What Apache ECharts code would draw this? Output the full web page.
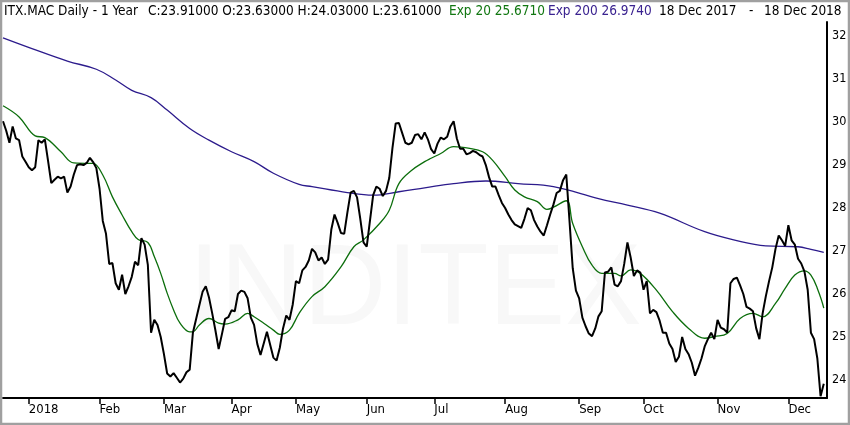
<!DOCTYPE html>
<html>
<head>
<meta charset="utf-8">
<script src="https://cdn.jsdelivr.net/npm/echarts@6/dist/echarts.min.js"></script>
<style>
html,body{margin:0;padding:0;background:#fff;}
#chart{width:850px;height:425px;}
</style>
</head>
<body>
<div id="chart"></div>
<script>
// ---- data ----
const holidays = ['2017-12-25','2017-12-26','2018-01-01','2018-03-30','2018-04-02','2018-05-01'];
const startDate = '2017-12-18';
const endDate = '2018-12-18';
const monthNames = ['Jan','Feb','Mar','Apr','May','Jun','Jul','Aug','Sep','Oct','Nov','Dec'];
const yTicks = [24,25,26,27,28,29,30,31,32];

const close = [
30.02,29.8,29.52,29.9,29.62,29.58,29.2,29.08,28.95,28.88,
28.95,29.58,29.52,29.6,29.1,28.58,28.66,28.73,28.69,28.73,
28.36,28.5,28.78,29.0,29.02,29.0,29.05,29.17,29.07,28.93,
28.45,27.7,27.4,26.7,26.72,26.25,26.1,26.45,26.0,26.18,
26.4,26.75,26.67,27.3,27.15,26.68,25.1,25.4,25.28,25.0,
24.6,24.15,24.08,24.16,24.05,23.94,24.03,24.18,24.24,25.1,
25.42,25.74,26.05,26.18,25.92,25.55,25.15,24.72,25.06,25.42,
25.46,25.62,25.6,26.0,26.08,26.05,25.9,25.45,25.28,24.84,
24.58,24.85,25.12,24.82,24.52,24.45,24.75,25.2,25.5,25.4,
25.75,26.3,26.25,26.55,26.63,26.78,27.05,26.97,26.78,26.85,
26.7,26.8,27.5,27.85,27.65,27.42,27.4,27.9,28.36,28.4,
28.25,27.75,27.2,27.1,27.7,28.3,28.5,28.45,28.28,28.4,
28.7,29.4,29.97,29.98,29.75,29.52,29.48,29.52,29.7,29.72,
29.6,29.76,29.6,29.37,29.27,29.5,29.64,29.6,29.66,29.9,
30.02,29.62,29.38,29.38,29.25,29.28,29.33,29.3,29.24,29.2,
29.0,28.72,28.5,28.5,28.3,28.12,28.0,27.85,27.72,27.62,
27.58,27.54,27.75,28.0,27.95,27.72,27.57,27.45,27.36,27.6,
27.85,28.08,28.35,28.4,28.65,28.78,27.7,26.6,26.08,25.9,
25.45,25.25,25.08,25.02,25.2,25.48,25.6,26.5,26.52,26.62,
26.22,26.18,26.3,26.7,27.2,26.85,26.42,26.55,26.5,26.1,
26.3,25.55,25.63,25.58,25.38,25.1,25.1,24.85,24.72,24.42,
24.54,25.0,24.72,24.6,24.4,24.1,24.28,24.5,24.78,24.95,
25.1,24.95,25.4,25.22,25.18,25.1,26.25,26.35,26.38,26.2,
26.0,25.7,25.66,25.6,25.2,24.95,25.55,25.95,26.3,26.62,
27.05,27.36,27.25,27.12,27.6,27.25,27.15,26.82,26.71,26.52,
26.1,25.1,24.95,24.5,23.62,23.91
];

// [trading-day index, value]
const exp20 = [
[0,30.38],[5,30.12],[10,29.68],[13,29.64],[18,29.31],[22,29.05],[27,29.04],[28,29.04],
[31,28.77],[34,28.26],[37,27.84],[40,27.45],[42,27.27],[45,27.2],[47,26.87],[49,26.48],
[51,26.02],[53,25.63],[55,25.32],[58,25.12],[59,25.12],[61,25.28],[64,25.43],[67,25.32],
[69,25.3],[73,25.4],[76,25.55],[78,25.47],[81,25.32],[84,25.16],[86,25.06],[89,25.16],
[92,25.55],[96,25.94],[100,26.17],[105,26.63],[109,27.1],[112,27.26],[117,27.64],[120,27.95],
[123,28.57],[127,28.88],[131,29.08],[133,29.16],[136,29.27],[140,29.43],[145,29.39],[149,29.31],
[152,29.12],[156,28.73],[159,28.42],[162,28.26],[166,28.15],[169,27.97],[171,28.02],[175,28.17],
[177,27.64],[180,27.1],[183,26.67],[186,26.48],[190,26.48],[192,26.42],[195,26.56],[198,26.48],
[203,26.09],[208,25.59],[213,25.2],[218,24.97],[221,25.01],[225,25.08],[229,25.43],[233,25.55],
[236,25.47],[240,25.78],[243,26.13],[246,26.44],[249,26.54],[251,26.44],[253,26.13],[255,25.67]
];

const exp200 = [
[0,31.96],[9,31.71],[20,31.42],[29,31.23],[35,30.98],[40,30.74],[46,30.57],[51,30.28],
[58,29.85],[64,29.58],[71,29.31],[78,29.08],[84,28.81],[92,28.55],[96,28.5],[107,28.36],
[115,28.3],[123,28.38],[131,28.47],[140,28.57],[150,28.63],[160,28.57],[171,28.5],[185,28.22],
[194,28.07],[204,27.88],[218,27.45],[227,27.26],[237,27.12],[247,27.1],[251,27.04],[255,26.97]
];

// ---- trading-day categories ----
function buildTradingDays(s, e, hol) {
  const out = [];
  const d = new Date(s + 'T00:00:00Z');
  const end = new Date(e + 'T00:00:00Z');
  while (d <= end) {
    const wd = d.getUTCDay();
    const iso = d.toISOString().slice(0, 10);
    if (wd !== 0 && wd !== 6 && hol.indexOf(iso) < 0) out.push(iso);
    d.setUTCDate(d.getUTCDate() + 1);
  }
  return out;
}
const categories = buildTradingDays(startDate, endDate, holidays);
const axisCats = categories.concat(['']);

function isMonthStart(index) {
  if (index <= 0 || index >= categories.length) return false;
  return categories[index].slice(5, 7) !== categories[index - 1].slice(5, 7);
}

const FONT = "'DejaVu Sans Condensed', 'DejaVu Sans', sans-serif";

const chart = echarts.init(document.getElementById('chart'), null, {renderer: 'canvas'});

function headerText(x, text, color) {
  return {
    type: 'text', left: x, top: 4, z: 10,
    style: {text: text, fill: color, font: "13.5px " + FONT}
  };
}

chart.setOption({
  animation: false,
  backgroundColor: '#ffffff',
  grid: {left: 3, right: 23, top: 22, bottom: 27, containLabel: false, outerBoundsMode: 'none'},
  graphic: [
    {
      type: 'text', x: 415, y: 292, z: -10, silent: true,
      style: {text: 'INDITEX', fill: '#f8f8f8', font: "115px 'Liberation Sans', sans-serif",
              align: 'center', verticalAlign: 'middle'}
    },
    {
      type: 'rect', z: 100, silent: true,
      shape: {x: 1, y: 1, width: 848, height: 423},
      style: {fill: 'none', stroke: '#a0a0a0', lineWidth: 2.5}
    },
    headerText(4, 'ITX.MAC Daily - 1 Year', '#000'),
    headerText(148, 'C:23.91000 O:23.63000 H:24.03000 L:23.61000', '#000'),
    headerText(449, 'Exp 20 25.6710', '#117711'),
    headerText(548, 'Exp 200 26.9740', '#3a2290'),
    headerText(659, '18 Dec 2017', '#000'),
    headerText(749, '-', '#000'),
    headerText(764, '18 Dec 2018', '#000')
  ],
  xAxis: {
    type: 'category',
    data: axisCats,
    boundaryGap: false,
    axisLine: {show: true, lineStyle: {color: '#000', width: 2}},
    axisTick: {show: true, length: 6, interval: function (i) { return isMonthStart(i); },
               lineStyle: {color: '#000', width: 1.5}},
    axisLabel: {
      interval: function (i) { return isMonthStart(i); },
      align: 'left', margin: 5, color: '#000', fontSize: 13, fontFamily: FONT,
      formatter: function (v) {
        if (!v) return '';
        const m = parseInt(v.slice(5, 7), 10) - 1;
        return m === 0 ? v.slice(0, 4) : monthNames[m];
      }
    },
    splitLine: {show: false}
  },
  yAxis: {
    type: 'value',
    position: 'right',
    min: 23.58,
    max: 32.33,
    axisLine: {show: true, lineStyle: {color: '#000', width: 2}},
    axisTick: {show: false},
    axisLabel: {customValues: yTicks, margin: 5, color: '#000', fontSize: 12.5, fontFamily: FONT},
    splitLine: {show: false}
  },
  series: [
    {
      name: 'Exp 200', type: 'line', data: exp200, smooth: 0.4, showSymbol: false,
      lineStyle: {color: '#2c1b8c', width: 1.3}, z: 2
    },
    {
      name: 'Exp 20', type: 'line', data: exp20, smooth: 0.4, showSymbol: false,
      lineStyle: {color: '#0c6e0c', width: 1.3}, z: 3
    },
    {
      name: 'ITX.MAC', type: 'line', data: close, showSymbol: false,
      lineStyle: {color: '#000', width: 2}, z: 4
    }
  ]
});
</script>
</body>
</html>
